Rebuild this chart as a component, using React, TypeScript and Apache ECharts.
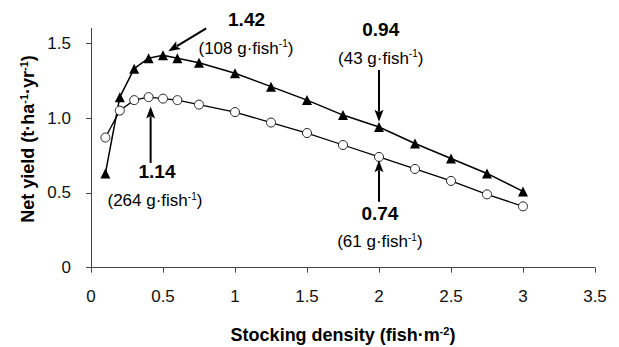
import React, { useEffect, useRef } from 'react';
import * as echarts from 'echarts';

// Stocking density (fish·m^-2)
const densities = [0.1, 0.2, 0.3, 0.4, 0.5, 0.6, 0.75, 1.0, 1.25, 1.5, 1.75, 2.0, 2.25, 2.5, 2.75, 3.0];
// Net yield (t·ha^-1·yr^-1), triangle series
const yieldTriangles = [0.63, 1.14, 1.33, 1.40, 1.42, 1.40, 1.37, 1.30, 1.21, 1.12, 1.02, 0.94, 0.83, 0.73, 0.63, 0.51];
// Net yield, open-circle series
const yieldCircles = [0.87, 1.05, 1.12, 1.14, 1.13, 1.12, 1.09, 1.04, 0.97, 0.90, 0.82, 0.74, 0.66, 0.58, 0.49, 0.41];

const yTickValues = [0, 0.5, 1.0, 1.5];

// Annotation texts
const annValues = ['1.42', '0.94', '1.14', '0.74'];
const annWeights = ['108', '43', '264', '61'];

// Annotation layout (data coordinates)
const annLayout = [
  { from: [0.80, 1.6], to: [0.537, 1.446], value: [1.08, 1.656], note: [1.076, 1.467] },
  { from: [2.0, 1.321], to: [2.0, 0.975], value: [2.012, 1.59], note: [2.012, 1.40] },
  { from: [0.414, 0.70], to: [0.414, 1.078], value: [0.458, 0.64], note: [0.444, 0.448] },
  { from: [2.0, 0.44], to: [2.0, 0.718], value: [2.006, 0.364], note: [2.006, 0.174] },
];

const FONT = 'Liberation Sans, Arial, Helvetica, sans-serif';

export default function App() {
  const ref = useRef<HTMLDivElement>(null);

  useEffect(() => {
    if (!ref.current) return;
    const chart = echarts.init(ref.current, null, { renderer: 'svg' });

    const option: any = {
      animation: false,
      backgroundColor: '#ffffff',
      grid: { left: 91, right: 24, top: 28.3, bottom: 79.3, containLabel: false },
      xAxis: {
        type: 'value',
        min: 0,
        max: 3.5,
        interval: 0.5,
        axisLine: { show: true, lineStyle: { color: '#444', width: 1 } },
        axisTick: { show: true, length: 5, inside: false, lineStyle: { color: '#444' } },
        axisLabel: { color: '#111', fontSize: 17, fontFamily: FONT, margin: 20 },
        splitLine: { show: false },
      },
      yAxis: {
        type: 'value',
        min: 0,
        max: 1.6,
        axisLine: { show: true, lineStyle: { color: '#444', width: 1 } },
        axisTick: { show: true, length: 5, inside: false, lineStyle: { color: '#444' }, customValues: yTickValues },
        axisLabel: {
          color: '#111',
          fontSize: 17,
          fontFamily: FONT,
          margin: 20,
          customValues: yTickValues,
          formatter: (v: number) => (v === 0 ? '0' : v.toFixed(1)),
        },
        splitLine: { show: false },
      },
      series: [
        {
          type: 'line',
          data: densities.map((d, i) => [d, yieldTriangles[i]]),
          symbol: 'triangle',
          symbolSize: 10,
          lineStyle: { color: '#000', width: 1.5 },
          itemStyle: { color: '#000', borderColor: '#000', borderWidth: 0 },
          z: 2,
        },
        {
          type: 'line',
          data: densities.map((d, i) => [d, yieldCircles[i]]),
          symbol: 'circle',
          symbolSize: 9,
          showAllSymbol: true,
          lineStyle: { color: '#000', width: 1.3 },
          itemStyle: { color: '#fff', borderColor: '#222', borderWidth: 1 },
          z: 3,
        },
      ],
    };
    chart.setOption(option);

    const px = (p: number[]) => chart.convertToPixel({ gridIndex: 0 }, p) as number[];

    const elements: any[] = [];
    const supRich = {
      n: { fontSize: 17, fontFamily: FONT, fill: '#000', color: '#000', lineHeight: 19 },
      s: { fontSize: 10, fontFamily: FONT, fill: '#000', color: '#000', verticalAlign: 'top', lineHeight: 10 },
      t: { fontSize: 18, fontWeight: 'bold', fontFamily: FONT, fill: '#000', color: '#000', lineHeight: 20 },
      ts: { fontSize: 11, fontWeight: 'bold', fontFamily: FONT, fill: '#000', color: '#000', verticalAlign: 'top', lineHeight: 11 },
    };

    annLayout.forEach((a, i) => {
      const f = px(a.from);
      const t = px(a.to);
      const dx = t[0] - f[0];
      const dy = t[1] - f[1];
      const len = Math.sqrt(dx * dx + dy * dy);
      const ux = dx / len;
      const uy = dy / len;
      const headLen = 12;
      const headHalf = 4.5;
      const bx = t[0] - ux * headLen;
      const by = t[1] - uy * headLen;
      elements.push({
        type: 'line',
        shape: { x1: f[0], y1: f[1], x2: bx + ux * 2, y2: by + uy * 2 },
        style: { stroke: '#000', lineWidth: 2 },
        z: 10,
      });
      elements.push({
        type: 'polygon',
        shape: {
          points: [
            [t[0], t[1]],
            [bx - uy * headHalf, by + ux * headHalf],
            [bx + ux * 2.5, by + uy * 2.5],
            [bx + uy * headHalf, by - ux * headHalf],
          ],
        },
        style: { fill: '#000' },
        z: 10,
      });
      const vp = px(a.value);
      elements.push({
        type: 'text',
        x: vp[0],
        y: vp[1],
        style: {
          text: annValues[i],
          font: `bold 19px ${FONT}`,
          fill: '#000',
          align: 'center',
          verticalAlign: 'middle',
          textAlign: 'center',
          textVerticalAlign: 'middle',
        },
        z: 10,
      });
      const np = px(a.note);
      elements.push({
        type: 'text',
        x: np[0],
        y: np[1],
        style: {
          text: `{n|(${annWeights[i]} g·fish}{s|-1}{n|)}`,
          rich: supRich,
          fill: '#000',
          align: 'center',
          verticalAlign: 'middle',
          textAlign: 'center',
          textVerticalAlign: 'middle',
        },
        z: 10,
      });
    });

    // Axis titles
    elements.push({
      type: 'text',
      x: 343,
      y: 335,
      style: {
        text: '{t|Stocking density (fish·m}{ts|-2}{t|)}',
        rich: supRich,
        align: 'center',
        verticalAlign: 'middle',
        textAlign: 'center',
        textVerticalAlign: 'middle',
      },
    });
    elements.push({
      type: 'text',
      x: 28,
      y: 139,
      rotation: Math.PI / 2,
      style: {
        text: '{t|Net yield (t·ha}{ts|-1}{t|·yr}{ts|-1}{t|)}',
        rich: supRich,
        align: 'center',
        verticalAlign: 'middle',
        textAlign: 'center',
        textVerticalAlign: 'middle',
      },
    });

    chart.setOption({ graphic: elements });

    return () => {
      chart.dispose();
    };
  }, []);

  return (
    <div
      ref={ref}
      style={{ position: 'fixed', left: 0, top: 0, width: 619, height: 347, background: '#fff' }}
    />
  );
}
